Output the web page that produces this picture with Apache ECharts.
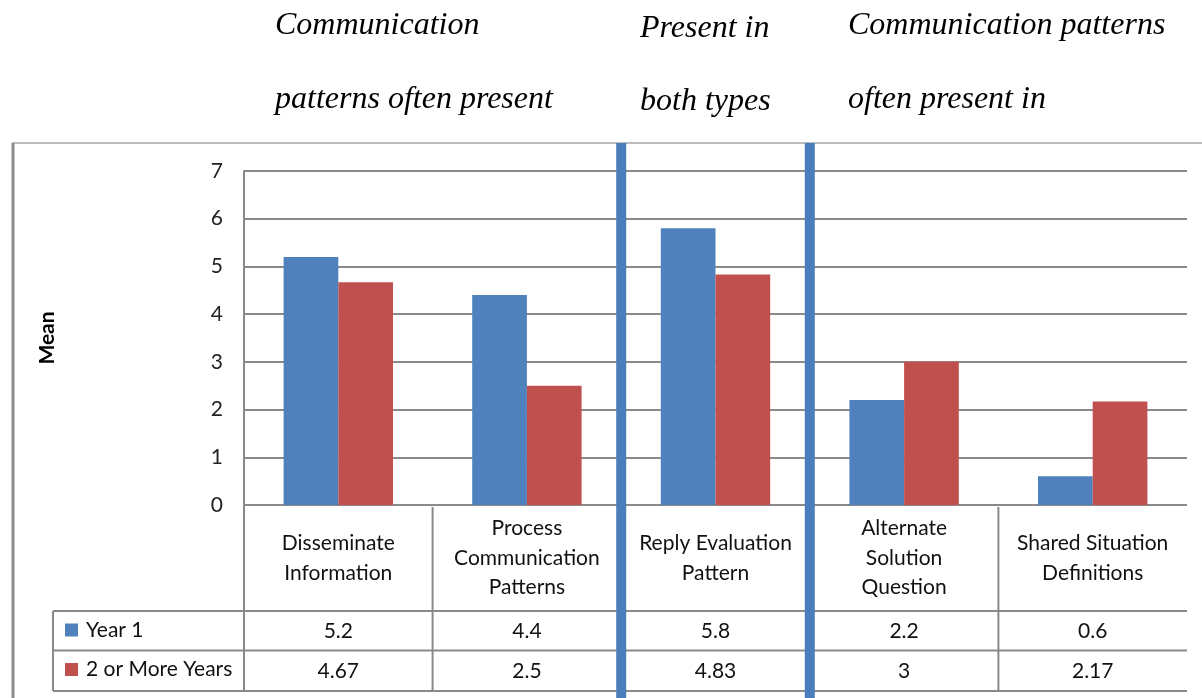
<!DOCTYPE html>
<html>
<head>
<meta charset="utf-8">
<style>
  html, body { margin: 0; padding: 0; background: #fff; }
  #chart { width: 1202px; height: 698px; }
</style>
<script src="https://cdn.jsdelivr.net/npm/echarts@6/dist/echarts.min.js"></script>
</head>
<body>
<div id="chart"></div>
<script>
// Communication pattern means by teaching experience
const categories = [
  'Disseminate\nInformation',
  'Process\nCommunication\nPatterns',
  'Reply Evaluation\nPattern',
  'Alternate\nSolution\nQuestion',
  'Shared Situation\nDefinitions'
];
const seriesNames = ['Year 1', '2 or More Years'];
const year1 = [5.2, 4.4, 5.8, 2.2, 0.6];
const twoPlusYears = [4.67, 2.5, 4.83, 3, 2.17];
const yTicks = { min: 0, max: 7, interval: 1 };
const groupHeadings = [
  ['Communication', 'patterns often present'],
  ['Present in', 'both types'],
  ['Communication patterns', 'often present in']
];
// group boundaries fall after these category indices
const groupBreaks = [1, 2];

const BLUE = '#4f81bd';
const RED = '#c0504d';
const GRID_GRAY = '#8a8a8a';
const SANS = 'Lato, "Open Sans", sans-serif';
const SERIF = '"Liberation Serif", "DejaVu Serif", serif';

const chart = echarts.init(document.getElementById('chart'), null, { renderer: 'canvas' });

const gridTop = 171, gridBottomY = 505, gridLeft = 244, gridRight = 1187;
const rowTop = 611, rowMid = 650.5, rowBottom = 691;

const valueAxis = (values, margin) => ({
  type: 'category',
  data: categories,
  position: 'bottom',
  axisLine: { show: false },
  axisTick: { show: false },
  splitLine: { show: false },
  axisLabel: {
    interval: 0,
    margin: margin,
    verticalAlign: 'middle',
    fontFamily: SANS,
    fontSize: 21,
    color: '#111',
    formatter: (v, i) => String(values[i])
  }
});

chart.setOption({
  animation: false,
  backgroundColor: '#fff',
  color: [BLUE, RED],
  grid: {
    left: gridLeft,
    right: 1202 - gridRight,
    top: gridTop,
    bottom: 698 - gridBottomY,
    containLabel: false
  },
  legend: {
    orient: 'vertical',
    left: 60,
    top: rowTop + 1,
    icon: 'rect',
    itemWidth: 13,
    itemHeight: 13,
    itemGap: 13.5,
    selectedMode: false,
    data: seriesNames,
    textStyle: {
      fontFamily: SANS,
      fontSize: 21,
      lineHeight: 26,
      color: '#111',
      padding: [0, 0, 0, 3]
    }
  },
  xAxis: [
    {
      type: 'category',
      data: categories,
      axisLine: { show: false },
      axisTick: { show: false },
      splitLine: { show: false },
      axisLabel: {
        interval: 0,
        margin: 53,
        verticalAlign: 'middle',
        align: 'center',
        fontFamily: SANS,
        fontSize: 21,
        lineHeight: 29.5,
        color: '#111'
      }
    },
    valueAxis(year1, (rowTop + rowMid) / 2 - gridBottomY),
    valueAxis(twoPlusYears, (rowMid + rowBottom) / 2 - gridBottomY)
  ],
  yAxis: {
    type: 'value',
    min: yTicks.min,
    max: yTicks.max,
    interval: yTicks.interval,
    name: 'Mean',
    nameLocation: 'middle',
    nameRotate: 90,
    nameGap: gridLeft - 58,
    nameTextStyle: { fontFamily: SANS, fontSize: 21, fontWeight: 'bold', color: '#000' },
    axisLine: { show: true, lineStyle: { color: GRID_GRAY, width: 2 } },
    axisTick: { show: false },
    axisLabel: { margin: 21, fontFamily: SANS, fontSize: 21, color: '#222' },
    splitLine: { show: true, lineStyle: { color: GRID_GRAY, width: 2 } }
  },
  series: [
    {
      name: seriesNames[0],
      type: 'bar',
      data: year1,
      barCategoryGap: '42%',
      barGap: '0%',
      itemStyle: { color: BLUE }
    },
    {
      name: seriesNames[1],
      type: 'bar',
      data: twoPlusYears,
      barCategoryGap: '42%',
      barGap: '0%',
      itemStyle: { color: RED }
    }
  ]
});

// Table rules, group dividers and headings, positioned from the category scale
const centers = categories.map((c, i) => chart.convertToPixel({ xAxisIndex: 0 }, i));
const band = centers.length > 1 ? centers[1] - centers[0] : 0;
const boundary = i => centers[i] + band / 2;

const graphics = [];
const line = (x1, y1, x2, y2, color, width) => graphics.push({
  type: 'line',
  shape: { x1, y1, x2, y2 },
  style: { stroke: color, lineWidth: width },
  z: 5
});

// outer frame
line(12, 143, 1202, 143, '#a6a6a6', 1.5);
line(13, 143, 13, 698, '#8c8c8c', 3);

// table
const tableLeft = 53;
line(gridLeft, gridBottomY, gridLeft, rowBottom, GRID_GRAY, 2);
[rowTop, rowMid, rowBottom].forEach(y => line(tableLeft, y, gridRight, y, GRID_GRAY, 2));
line(tableLeft, rowTop, tableLeft, rowBottom, GRID_GRAY, 2);
for (let i = 0; i < categories.length - 1; i++) {
  line(boundary(i), gridBottomY + 2, boundary(i), rowBottom, GRID_GRAY, 2);
}

// group dividers
groupBreaks.forEach(i => graphics.push({
  type: 'rect',
  shape: { x: boundary(i) - 5, y: 143, width: 10, height: 698 - 143 },
  style: { fill: '#4a7ebb' },
  z: 10
}));

// group headings
const headingX = [275, 640, 848];
const headingY = [[26, 100], [29, 102], [26, 100]];
groupHeadings.forEach((lines, g) => {
  lines.forEach((txt, k) => graphics.push({
    type: 'text',
    x: headingX[g],
    y: headingY[g][k],
    style: {
      text: txt,
      fontFamily: SERIF,
      fontStyle: 'italic',
      fontSize: 32,
      fill: '#000',
      align: 'left',
      verticalAlign: 'middle'
    },
    z: 10
  }));
});

chart.setOption({ graphic: graphics });
</script>
</body>
</html>
